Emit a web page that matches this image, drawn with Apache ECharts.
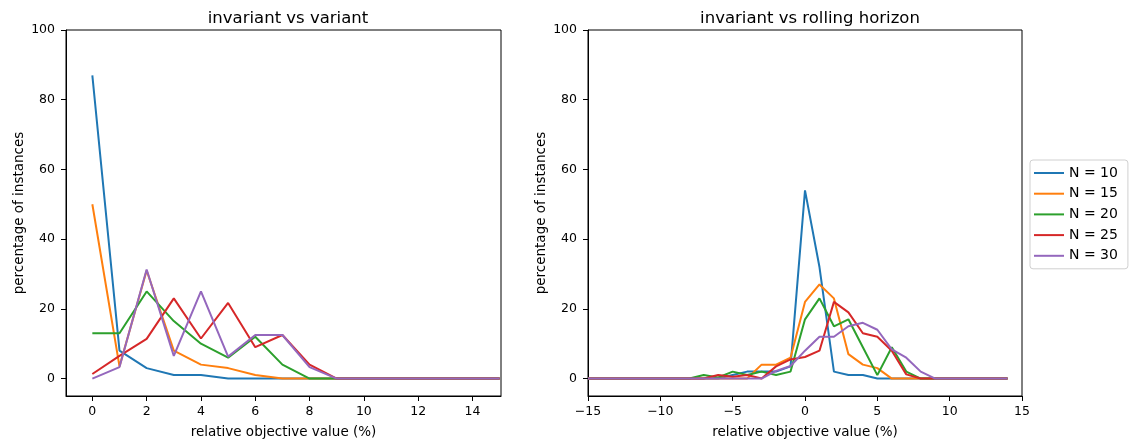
<!DOCTYPE html>
<html>
<head>
<meta charset="utf-8">
<script src="https://cdn.jsdelivr.net/npm/echarts@6/dist/echarts.min.js"></script>
<style>
html,body{margin:0;padding:0;background:#fff;}
#chart{width:1129px;height:444px;}
</style>
</head>
<body>
<div id="chart"></div>
<script>
// ---- data ----
const seriesNames = ['N = 10', 'N = 15', 'N = 20', 'N = 25', 'N = 30'];
const colors = ['#1f77b4', '#ff7f0e', '#2ca02c', '#d62728', '#9467bd'];

// left panel: invariant vs variant, x = 0..15
const leftX = [0,1,2,3,4,5,6,7,8,9,10,11,12,13,14,15];
const leftN10 = [87, 8, 3, 1, 1, 0, 0, 0, 0, 0, 0, 0, 0, 0, 0, 0];
const leftN15 = [50, 3.5, 31, 8, 4, 3, 1, 0, 0, 0, 0, 0, 0, 0, 0, 0];
const leftN20 = [13, 13, 25, 16.5, 10, 6, 12, 4, 0, 0, 0, 0, 0, 0, 0, 0];
const leftN25 = [1.3, 6.5, 11.4, 23, 11.5, 21.7, 9, 12.5, 4, 0, 0, 0, 0, 0, 0, 0];
const leftN30 = [0, 3.3, 31.3, 6.5, 25, 6.3, 12.5, 12.5, 3.3, 0, 0, 0, 0, 0, 0, 0];

// right panel: invariant vs rolling horizon, x = -15..14
const rightX = [-15,-14,-13,-12,-11,-10,-9,-8,-7,-6,-5,-4,-3,-2,-1,0,1,2,3,4,5,6,7,8,9,10,11,12,13,14];
const rightN10 = [0,0,0,0,0,0,0,0,0,0, 1,2,2,2,3.5,54,32,2,1,1, 0,0,0,0,0,0,0,0,0,0];
const rightN15 = [0,0,0,0,0,0,0,0,0,0,0,0, 4,4,6,22,27,23,7,4,3, 0,0,0,0,0,0,0,0,0];
const rightN20 = [0,0,0,0,0,0,0,0, 1,0.3,2,1,2,1,2,17,23,15,17,9,1,9,2, 0,0,0,0,0,0,0];
const rightN25 = [0,0,0,0,0,0,0,0,0, 1,0.5,1,0,3.5,5.5,6.2,8,22,19,13,12,8,1.2, 0,0,0,0,0,0,0];
const rightN30 = [0,0,0,0,0,0,0,0,0,0,0,0,0, 2.2,3.6,8,12,12,15,16,14,8.4,6,2, 0,0,0,0,0,0];

const leftXTicks = [0,2,4,6,8,10,12,14];
const rightXTicks = [-15,-10,-5,0,5,10,15];
const yTicks = [0,20,40,60,80,100];

const titles = ['invariant vs variant', 'invariant vs rolling horizon'];
const xLabel = 'relative objective value (%)';
const yLabel = 'percentage of instances';

// ---- chart ----
const FONT = 'DejaVu Sans';
const TICK_FS = 12.5, LABEL_FS = 13.5, TITLE_FS = 16.5, LEGEND_FS = 14;
const chart = echarts.init(document.getElementById('chart'), null, {renderer: 'canvas'});

const leftData = [leftN10, leftN15, leftN20, leftN25, leftN30];
const rightData = [rightN10, rightN15, rightN20, rightN25, rightN30];

function pairs(xs, ys) { return xs.map((x, i) => [x, ys[i]]); }
function fmtMinus(v) { return v < 0 ? '\u2212' + Math.abs(v) : String(v); }

const tickText = {color: '#000', fontFamily: FONT, fontSize: TICK_FS};

function xAxis(idx, min, max, ticks) {
  return {
    type: 'value', gridIndex: idx, min: min, max: max,
    name: xLabel, nameLocation: 'middle', nameGap: 29,
    nameTextStyle: {color: '#000', fontFamily: FONT, fontSize: LABEL_FS},
    axisLine: {show: true, onZero: false, lineStyle: {color: '#000', width: 1}},
    axisTick: {show: true, length: 5, lineStyle: {color: '#000'}, customValues: ticks},
    axisLabel: Object.assign({margin: 9, customValues: ticks, formatter: fmtMinus}, tickText),
    splitLine: {show: false}
  };
}
function yAxis(idx) {
  return {
    type: 'value', gridIndex: idx, min: -5, max: 100,
    name: yLabel, nameLocation: 'middle', nameGap: 40, nameRotate: 90,
    nameTextStyle: {color: '#000', fontFamily: FONT, fontSize: LABEL_FS},
    axisLine: {show: true, onZero: false, lineStyle: {color: '#000', width: 1}},
    axisTick: {show: true, length: 5, lineStyle: {color: '#000'}, customValues: yTicks},
    axisLabel: Object.assign({margin: 11, customValues: yTicks}, tickText),
    splitLine: {show: false}
  };
}

const series = [];
seriesNames.forEach((name, i) => {
  series.push({
    name: name, type: 'line', xAxisIndex: 0, yAxisIndex: 0,
    data: pairs(leftX, leftData[i]), showSymbol: false, symbol: 'none',
    lineStyle: {color: colors[i], width: 2}, itemStyle: {color: colors[i]},
    clip: true, animation: false, z: 2 + i
  });
  series.push({
    name: name, type: 'line', xAxisIndex: 1, yAxisIndex: 1,
    data: pairs(rightX, rightData[i]), showSymbol: false, symbol: 'none',
    lineStyle: {color: colors[i], width: 2}, itemStyle: {color: colors[i]},
    clip: true, animation: false, z: 2 + i
  });
});

chart.setOption({
  backgroundColor: '#fff',
  animation: false,
  title: [
    {text: titles[0], left: 283, top: 5, textAlign: 'center',
     textStyle: {color: '#000', fontFamily: FONT, fontSize: TITLE_FS, fontWeight: 'normal'}},
    {text: titles[1], left: 805, top: 5, textAlign: 'center',
     textStyle: {color: '#000', fontFamily: FONT, fontSize: TITLE_FS, fontWeight: 'normal'}}
  ],
  grid: [
    {left: 66, top: 30, width: 435, height: 368, show: true, borderColor: '#000', borderWidth: 1, backgroundColor: 'transparent'},
    {left: 588, top: 30, width: 434, height: 368, show: true, borderColor: '#000', borderWidth: 1, backgroundColor: 'transparent'}
  ],
  xAxis: [xAxis(0, -0.97, 15.05, leftXTicks), xAxis(1, -15, 15, rightXTicks)],
  yAxis: [yAxis(0), yAxis(1)],
  legend: {
    data: seriesNames,
    orient: 'vertical', left: 1030, top: 160,
    icon: 'rect', itemWidth: 30, itemHeight: 2, itemGap: 6.7,
    padding: [6, 10, 6, 4],
    borderColor: '#d0d0d0', borderWidth: 1, borderRadius: 3,
    textStyle: {color: '#000', fontFamily: FONT, fontSize: LEGEND_FS, lineHeight: 14},
    selectedMode: false
  },
  series: series
});
</script>
</body>
</html>
